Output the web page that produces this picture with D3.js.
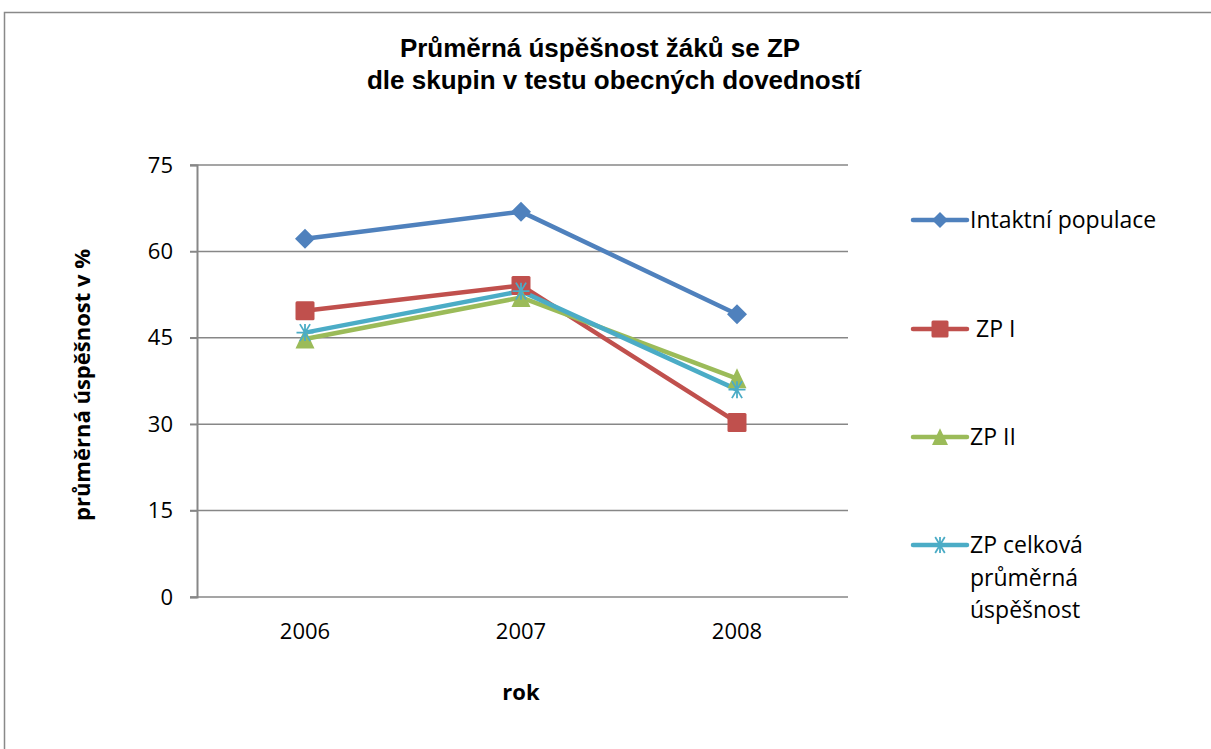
<!DOCTYPE html>
<meta charset="utf-8">
<head>
  <style>
    body { margin: 0; background: #fff; }
    svg { display: block; }
    .tick text { font: 22px "Open Sans", sans-serif; fill: #000; }
    .legend text { font: 23px "Open Sans", sans-serif; fill: #000; }
  </style>
</head>
<body>
<script src="https://d3js.org/d3.v7.min.js"></script>
<script>
const years = ["2006", "2007", "2008"];
const intaktni = [62.2, 66.9, 49.1];
const zp1 = [49.7, 54.1, 30.3];
const zp2 = [44.8, 52.0, 37.9];
const zpCelkova = [45.9, 53.1, 36.0];
const yTicks = [0, 15, 30, 45, 60, 75];

const series = [
  {name: ["Intaktní populace"], values: intaktni, color: "#4F81BD", marker: "diamond"},
  {name: [" ZP I"], values: zp1, color: "#C0504D", marker: "square"},
  {name: ["ZP II"], values: zp2, color: "#9BBB59", marker: "triangle"},
  {name: ["ZP celková", "průměrná", "úspěšnost"], values: zpCelkova, color: "#4BACC6", marker: "star"}
];

const W = 1211, H = 749;
const svg = d3.select("body").append("svg").attr("width", W).attr("height", H);

// outer frame (runs off the right and bottom edges)
svg.append("rect")
  .attr("x", 4.5).attr("y", 12.5).attr("width", W + 20).attr("height", H + 20)
  .attr("fill", "none").attr("stroke", "#898989").attr("stroke-width", 1.5);

const plotLeft = 197, plotRight = 845, plotTop = 165, plotBottom = 597;

const x = d3.scaleBand().domain(years).range([plotLeft, plotRight]);
const y = d3.scaleLinear().domain([0, 75]).range([plotBottom, plotTop]);

// gridlines
svg.append("g").selectAll("line").data(yTicks).join("line")
  .attr("x1", plotLeft - 7).attr("x2", plotRight + 3)
  .attr("y1", d => y(d)).attr("y2", d => y(d))
  .attr("stroke", "#878787").attr("stroke-width", 1.5);

// y axis
const yAxis = svg.append("g").attr("transform", `translate(${plotLeft},0)`)
  .call(d3.axisLeft(y).tickValues(yTicks).tickSize(7).tickPadding(17));
yAxis.select(".domain").attr("stroke", "#878787").attr("stroke-width", 2);
yAxis.selectAll(".tick line").attr("stroke", "#878787").attr("stroke-width", 1.5);

// x axis
const xAxis = svg.append("g").attr("transform", `translate(0,${plotBottom})`)
  .call(d3.axisBottom(x).tickSize(0).tickPadding(26));
xAxis.select(".domain").remove();

// lines + markers
const line = d3.line().x((d, i) => x(years[i]) + x.bandwidth() / 2).y(d => y(d));

function drawMarker(g, type, color, size) {
  const h = size / 2;
  if (type === "diamond") {
    g.append("path").attr("d", `M0,${-h}L${h},0L0,${h}L${-h},0Z`).attr("fill", color);
  } else if (type === "square") {
    g.append("rect").attr("x", -h).attr("y", -h)
      .attr("width", size).attr("height", size).attr("rx", 1.5).attr("fill", color);
  } else if (type === "triangle") {
    g.append("path").attr("d", `M0,${-size * 0.55}L${h},${size * 0.5}L${-h},${size * 0.5}Z`)
      .attr("fill", color);
  } else if (type === "star") {
    const d = [
      `M${-h},0L${h},0`,
      `M${-h * 0.6},${-h}L${h * 0.6},${h}`,
      `M${h * 0.6},${-h}L${-h * 0.6},${h}`,
      `M0,${-h}L0,${h}`
    ];
    g.append("path").attr("d", d.join("")).attr("stroke", color).attr("stroke-width", 1.8).attr("fill", "none");
  }
}

const markerSize = {diamond: 20, square: 19, triangle: 19, star: 17};

series.forEach(s => {
  svg.append("path").datum(s.values)
    .attr("d", line).attr("fill", "none")
    .attr("stroke", s.color).attr("stroke-width", 4.5).attr("stroke-linejoin", "round");
});
series.forEach(s => {
  s.values.forEach((v, i) => {
    const g = svg.append("g")
      .attr("transform", `translate(${x(years[i]) + x.bandwidth() / 2},${y(v)})`);
    drawMarker(g, s.marker, s.color, markerSize[s.marker]);
  });
});

// legend
const legendY = [220, 329, 437, 545];
const legend = svg.append("g").attr("class", "legend");
series.forEach((s, i) => {
  const g = legend.append("g").attr("transform", `translate(913,${legendY[i]})`);
  g.append("line").attr("x1", 0).attr("x2", 54).attr("y1", 0).attr("y2", 0)
    .attr("stroke", s.color).attr("stroke-width", 4.5).attr("stroke-linecap", "round");
  const mg = g.append("g").attr("transform", "translate(27,0)");
  drawMarker(mg, s.marker, s.color, s.marker === "square" ? 17 : 16);
  const t = g.append("text").attr("x", 57).attr("y", 8);
  s.name.forEach((n, k) => {
    t.append("tspan").attr("x", 57).attr("dy", k === 0 ? 0 : 32.5).style("white-space", "pre").text(n);
  });
});

// title
const title = svg.append("text").attr("text-anchor", "middle")
  .style("font", "bold 26px 'Liberation Sans', Arial, sans-serif");
title.append("tspan").attr("x", 600).attr("y", 57).text("Průměrná úspěšnost žáků se ZP");
title.append("tspan").attr("x", 614).attr("y", 89).text("dle skupin v testu obecných dovedností");

// axis titles
svg.append("text").attr("text-anchor", "middle")
  .attr("transform", "translate(90,385) rotate(-90)")
  .style("font", "bold 22px 'Open Sans', sans-serif")
  .text("průměrná úspěšnost v %");

svg.append("text").attr("text-anchor", "middle")
  .attr("x", 521).attr("y", 700)
  .style("font", "bold 22px 'Open Sans', sans-serif")
  .text("rok");
</script>
</body>
